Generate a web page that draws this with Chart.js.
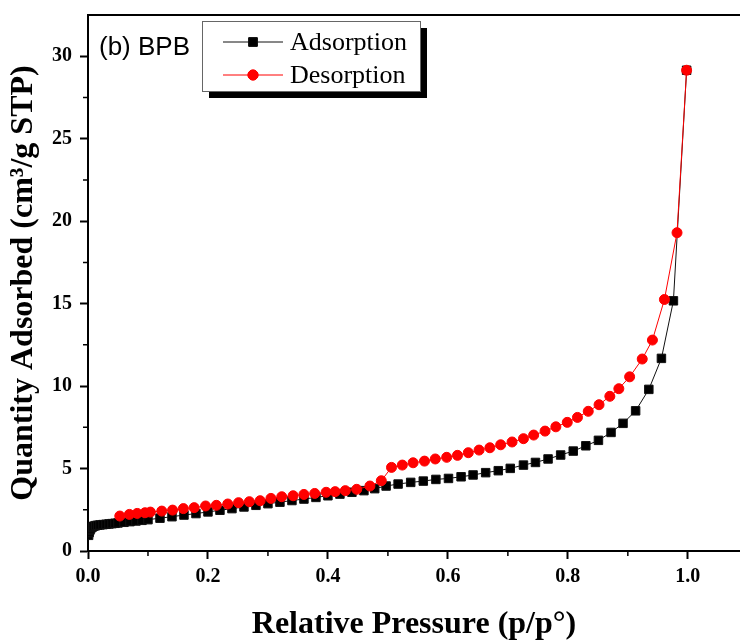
<!DOCTYPE html>
<html lang="en">
<head>
<meta charset="utf-8">
<title>BPB N2 isotherm</title>
<script src="https://cdn.jsdelivr.net/npm/chart.js@4.4.1/dist/chart.umd.min.js"></script>
<style>
  html, body { margin: 0; padding: 0; background: #fff; }
  #wrap { width: 740px; height: 644px; position: relative; }
</style>
</head>
<body>
<div id="wrap"><canvas id="iso-chart"></canvas></div>

<script>
  // relative pressure / quantity adsorbed
  const adsP = [0.001, 0.002, 0.003, 0.004, 0.006, 0.008, 0.010, 0.013, 0.016, 0.020, 0.025, 0.030, 0.035, 0.040, 0.045,
    0.050, 0.060, 0.070, 0.080, 0.090, 0.100, 0.120, 0.140, 0.160, 0.180, 0.200, 0.220, 0.240, 0.260, 0.280, 0.300,
    0.320, 0.340, 0.360, 0.380, 0.400, 0.420, 0.440, 0.460, 0.478, 0.497, 0.517, 0.538, 0.559, 0.580, 0.601, 0.622,
    0.642, 0.663, 0.684, 0.704, 0.726, 0.746, 0.767, 0.788, 0.809, 0.830, 0.851, 0.872, 0.892, 0.913, 0.935, 0.956,
    0.976, 0.998];
  const adsQ = [0.95, 1.12, 1.25, 1.33, 1.42, 1.47, 1.51, 1.54, 1.56, 1.58, 1.60, 1.62, 1.64, 1.66, 1.68,
    1.70, 1.74, 1.78, 1.82, 1.86, 1.90, 1.99, 2.08, 2.18, 2.27, 2.37, 2.47, 2.57, 2.67, 2.77, 2.87,
    2.96, 3.06, 3.15, 3.25, 3.35, 3.45, 3.56, 3.66, 3.78, 3.94, 4.06, 4.16, 4.24, 4.34, 4.40, 4.50,
    4.61, 4.75, 4.87, 5.01, 5.21, 5.37, 5.58, 5.82, 6.06, 6.38, 6.71, 7.19, 7.74, 8.50, 9.80, 11.68,
    15.17, 29.15];

  const desP = [0.053, 0.069, 0.082, 0.095, 0.104, 0.123, 0.141, 0.159, 0.177, 0.196, 0.214, 0.233, 0.251, 0.269,
    0.287, 0.305, 0.323, 0.342, 0.360, 0.378, 0.397, 0.412, 0.429, 0.448, 0.470, 0.489, 0.506, 0.524, 0.542, 0.561,
    0.579, 0.598, 0.616, 0.634, 0.652, 0.670, 0.688, 0.707, 0.726, 0.743, 0.762, 0.780, 0.799, 0.816, 0.834, 0.852,
    0.870, 0.885, 0.903, 0.924, 0.941, 0.961, 0.982, 0.998];
  const desQ = [2.12, 2.22, 2.28, 2.32, 2.36, 2.42, 2.48, 2.57, 2.63, 2.73, 2.77, 2.85, 2.93, 2.99,
    3.05, 3.19, 3.29, 3.35, 3.43, 3.49, 3.56, 3.60, 3.66, 3.74, 3.94, 4.26, 5.07, 5.21, 5.35, 5.45,
    5.58, 5.68, 5.80, 5.96, 6.12, 6.26, 6.44, 6.61, 6.81, 7.03, 7.27, 7.53, 7.80, 8.10, 8.47, 8.87,
    9.38, 9.84, 10.56, 11.64, 12.79, 15.25, 19.30, 29.15];

  // labelled ticks
  const xMajor = [0, 0.2, 0.4, 0.6, 0.8, 1.0];
  const yMajor = [0, 5, 10, 15, 20, 25, 30];

  const panelLabel = '(b) BPB';
  const serif = "'Liberation Serif', 'Times New Roman', serif";

  const isMajor = (list, v) => list.some(m => Math.abs(m - v) < 1e-6);
  const toPoints = (xs, ys) => xs.map((x, i) => ({ x: x, y: ys[i] }));

  // short minor ticks + top frame line
  const minorTicks = {
    id: 'minorTicks',
    afterDraw(chart) {
      const ctx = chart.ctx;
      const xs = chart.scales.x, ys = chart.scales.y;
      const a = chart.chartArea;
      ctx.save();
      ctx.strokeStyle = '#000';
      ctx.lineWidth = 1.5;
      ctx.beginPath();
      xs.ticks.forEach(t => {
        if (isMajor(xMajor, t.value)) return;
        const px = xs.getPixelForValue(t.value);
        ctx.moveTo(px, a.bottom);
        ctx.lineTo(px, a.bottom + 5);
      });
      ys.ticks.forEach(t => {
        if (isMajor(yMajor, t.value) || t.value >= ys.max - 1e-6) return;
        const py = ys.getPixelForValue(t.value);
        ctx.moveTo(a.left, py);
        ctx.lineTo(a.left - 5, py);
      });
      ctx.stroke();
      ctx.lineWidth = 2;
      ctx.beginPath();
      ctx.moveTo(a.left, a.top);
      ctx.lineTo(chart.width, a.top);
      ctx.stroke();
      ctx.restore();
    }
  };

  // framed legend with drop shadow, and the panel label
  const boxLegend = {
    id: 'boxLegend',
    afterDraw(chart) {
      const ctx = chart.ctx;
      const bx = 202, by = 21, bw = 218, bh = 70, sh = 7;
      ctx.save();
      ctx.fillStyle = '#000';
      ctx.fillRect(bx + sh, by + sh, bw, bh);
      ctx.fillStyle = '#fff';
      ctx.fillRect(bx, by, bw, bh);
      ctx.strokeStyle = '#666';
      ctx.lineWidth = 1;
      ctx.strokeRect(bx + 0.5, by + 0.5, bw, bh);

      chart.data.datasets.forEach((ds, i) => {
        const cy = by + 21 + i * 33;
        ctx.strokeStyle = ds.borderColor;
        ctx.lineWidth = 1;
        ctx.beginPath();
        ctx.moveTo(bx + 21, cy);
        ctx.lineTo(bx + 81, cy);
        ctx.stroke();
        ctx.fillStyle = ds.backgroundColor;
        Chart.helpers.drawPoint(ctx, {
          pointStyle: ds.pointStyle, radius: ds.pointRadius, borderWidth: ds.pointBorderWidth, rotation: 0
        }, bx + 51, cy);
        ctx.fill();
        ctx.stroke();
        ctx.fillStyle = '#000';
        ctx.font = '26px ' + serif;
        ctx.textBaseline = 'middle';
        ctx.textAlign = 'left';
        ctx.fillText(ds.label, bx + 88, cy + 1);
      });

      ctx.font = "26px 'Liberation Sans', Arial, sans-serif";
      ctx.fillStyle = '#000';
      ctx.textBaseline = 'middle';
      ctx.fillText(panelLabel, 99, 48);
      ctx.restore();
    }
  };

  const tickColor = list => c => (c.tick && isMajor(list, c.tick.value)) ? '#000' : 'rgba(0,0,0,0)';

  new Chart(document.getElementById('iso-chart'), {
    type: 'scatter',
    data: {
      datasets: [
        {
          label: 'Adsorption',
          data: toPoints(adsP, adsQ),
          showLine: true,
          borderColor: '#111',
          backgroundColor: '#000',
          borderWidth: 1,
          pointStyle: 'rect',
          pointRadius: 6,
          pointBorderWidth: 1,
          order: 1
        },
        {
          label: 'Desorption',
          data: toPoints(desP, desQ),
          showLine: true,
          borderColor: '#ff0000',
          backgroundColor: '#ff0000',
          borderWidth: 1,
          pointStyle: 'circle',
          pointRadius: 5,
          pointBorderWidth: 1,
          order: 0
        }
      ]
    },
    options: {
      responsive: true,
      maintainAspectRatio: false,
      animation: false,
      layout: { autoPadding: false, padding: { top: 15, right: 0, left: 0, bottom: 0 } },
      plugins: {
        legend: { display: false },
        tooltip: { enabled: false }
      },
      scales: {
        x: {
          type: 'linear',
          min: 0,
          max: 1.087,
          afterFit: s => { s.height = 93; s.paddingLeft = 0; s.paddingRight = 0; },
          border: { display: true, color: '#000', width: 2 },
          grid: { drawOnChartArea: false, tickLength: 8, tickWidth: 2, tickColor: tickColor(xMajor) },
          ticks: {
            stepSize: 0.1,
            includeBounds: false,
            autoSkip: false,
            maxRotation: 0,
            padding: 6,
            color: '#000',
            font: { family: serif, size: 20, weight: 'bold' },
            callback: v => isMajor(xMajor, v) ? v.toFixed(1) : ''
          },
          title: {
            display: true,
            text: 'Relative Pressure (p/p°)',
            color: '#000',
            padding: 0,
            font: { family: serif, size: 32, weight: 'bold' }
          }
        },
        y: {
          type: 'linear',
          min: 0,
          max: 32.5,
          afterFit: s => { s.width = 88; s.paddingTop = 0; s.paddingBottom = 0; },
          border: { display: true, color: '#000', width: 2 },
          grid: { drawOnChartArea: false, tickLength: 8, tickWidth: 2, tickColor: tickColor(yMajor) },
          ticks: {
            stepSize: 2.5,
            autoSkip: false,
            padding: 8,
            color: '#000',
            font: { family: serif, size: 20, weight: 'bold' },
            callback: v => isMajor(yMajor, v) ? String(v) : ''
          },
          title: {
            display: true,
            text: 'Quantity Adsorbed (cm³/g STP)',
            color: '#000',
            padding: { top: 5, bottom: 0 },
            font: { family: serif, size: 32, weight: 'bold' }
          }
        }
      }
    },
    plugins: [minorTicks, boxLegend]
  });
</script>
</body>
</html>
